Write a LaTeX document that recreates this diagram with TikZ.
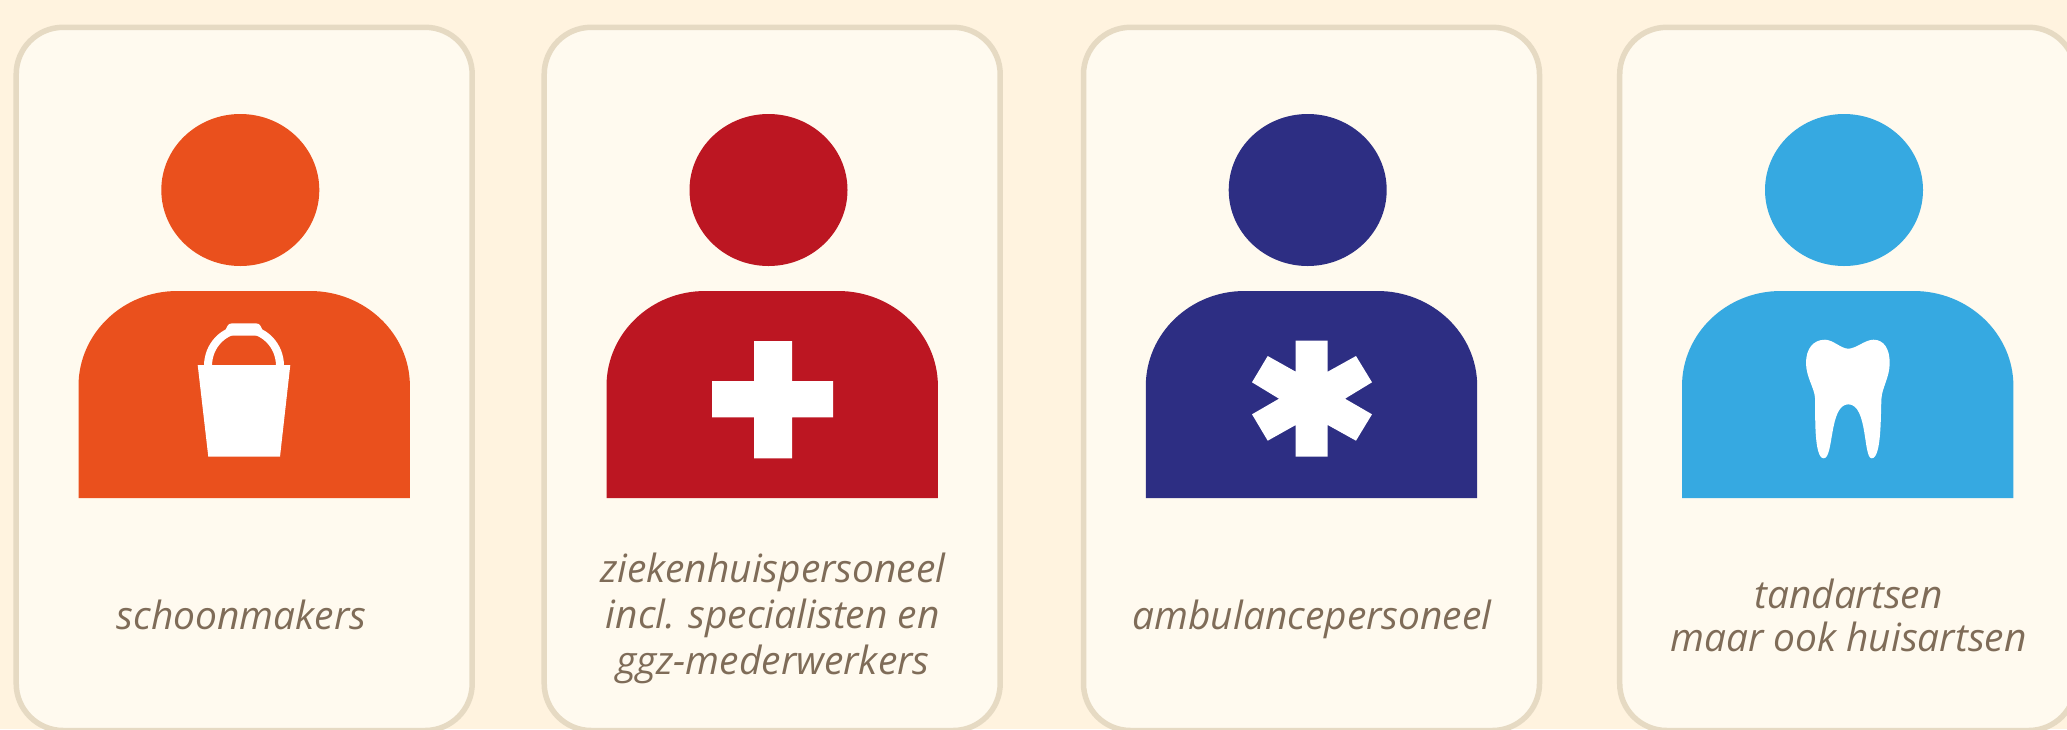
\documentclass[tikz,border=0pt]{standalone}
\usepackage{fontspec}
\setmainfont{Open Sans}
\definecolor{pagebg}{HTML}{FFF3DF}
\definecolor{cardbg}{HTML}{FFFAEF}
\definecolor{cardline}{HTML}{E6DAC3}
\definecolor{cOrange}{HTML}{EA501D}
\definecolor{cRed}{HTML}{BC1622}
\definecolor{cNavy}{HTML}{2D2E83}
\definecolor{cBlue}{HTML}{36A9E1}
\definecolor{labelcol}{HTML}{7F6C58}
\tikzset{
  cardbox/.style={fill=cardbg,draw=cardline,line width=5.5pt,rounded corners=47pt},
  lbl/.style={text=labelcol,align=center,inner sep=0pt,anchor=base},
  icon/.style={fill=white,draw=none}
}
\newcommand{\lblfont}[1]{\fontsize{38.9}{#1}\selectfont\itshape}
\newcommand{\personfig}[3]{%
  \draw[cardbox] (#1,27.3) rectangle (#1+456,730.5);
  \fill[#3] (#2,190) ellipse [x radius=79pt,y radius=76pt];
  \fill[#3] (#1+62.3,498) -- (#1+62.3,386)
     .. controls (#1+62.3,333.5) and (#1+106.6,291) .. (#1+161,291)
     -- (#1+294,291)
     .. controls (#1+348.7,291) and (#1+393.7,333.5) .. (#1+393.7,386)
     -- (#1+393.7,498) -- cycle;
}
\begin{document}
\begin{tikzpicture}[x=1pt,y=-1pt]
\useasboundingbox (0,0) rectangle (2067,729);
\clip (0,0) rectangle (2067,729);
\fill[pagebg] (0,0) rectangle (2067,729);
\personfig{16.2}{240.3}{cOrange}
\personfig{544.2}{768.5}{cRed}
\personfig{1083.5}{1307.7}{cNavy}
\personfig{1619.7}{1844}{cBlue}
% bucket
\fill[icon] (197.7,365) -- (290.3,365) -- (280,456.7) -- (208.3,456.7) -- cycle;
\draw[white,line width=8pt] (208,366) .. controls (208,345.1) and (224.1,329) .. (244,329)
   .. controls (263.9,329) and (280,345.1) .. (280,366);
\fill[icon] (224.5,332) .. controls (227,328) and (227,323.3) .. (232,323.3) -- (256,323.3)
   .. controls (261,323.3) and (261,328) .. (263.5,332) -- (260,335.7) -- (228,335.7) -- cycle;
% cross
\fill[icon] (754,341) -- (792,341) -- (792,381) -- (833,381) -- (833,417.3) -- (792,417.3)
   -- (792,458.3) -- (754,458.3) -- (754,417.3) -- (712,417.3) -- (712,381) -- (754,381) -- cycle;
% star of life
\fill[icon] (1295.7,340.7) -- (1327.7,340.7) -- (1327.7,371.7) -- (1356,356) -- (1372,382.3)
   -- (1345,398.7) -- (1372,414.3) -- (1356,440.7) -- (1327.7,425) -- (1327.7,456.7)
   -- (1295.7,456.7) -- (1295.7,425) -- (1267.7,440.7) -- (1252,414.3) -- (1279,398.7)
   -- (1252,382.3) -- (1267.7,356) -- (1295.7,371.7) -- cycle;
% tooth
\fill[icon] (1848.3,348.7)
   .. controls (1856,348.7) and (1865,339.7) .. (1873.5,339.7)
   .. controls (1884,339.7) and (1889.7,349) .. (1889.7,363)
   .. controls (1889.7,377) and (1882,388) .. (1881.5,398)
   .. controls (1880.5,412) and (1882,458.3) .. (1871.7,458.3)
   .. controls (1863,458.3) and (1868,404.3) .. (1848.3,404.3)
   .. controls (1829,404.3) and (1834,458.3) .. (1823.7,458.3)
   .. controls (1813.5,458.3) and (1815.5,412) .. (1815,398)
   .. controls (1814.5,388) and (1806,377) .. (1806,363)
   .. controls (1806,349) and (1813,339.7) .. (1825,339.7)
   .. controls (1833,339.7) and (1841,348.7) .. (1848.3,348.7) -- cycle;
% labels
\node[lbl,font=\lblfont{45.8}] (schoon) at (241.5,629.3) {schoonmakers};
\node[lbl,font=\lblfont{45.8}] (zkh) at (772.8,674.5) {ziekenhuispersoneel\\incl. specialisten en\\ggz-mederwerkers};
\node[lbl,font=\lblfont{45.8}] (amb) at (1312,629.3) {ambulancepersoneel};
\node[lbl,font=\lblfont{42.5}] (tand) at (1848.5,651) {tandartsen\\maar ook huisartsen};
\end{tikzpicture}
\end{document}
